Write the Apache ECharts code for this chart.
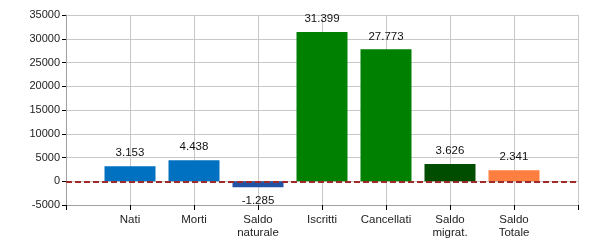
<!DOCTYPE html>
<html><head><meta charset="utf-8">
<script src="https://cdn.jsdelivr.net/npm/echarts@6/dist/echarts.min.js"></script>
<style>html,body{margin:0;padding:0;background:#fff}#c{width:600px;height:250px}</style>
</head><body><div id="c"></div>
<script>
var categories = ['', 'Nati', 'Morti', 'Saldo\nnaturale', 'Iscritti', 'Cancellati', 'Saldo\nmigrat.', 'Saldo\nTotale', ''];
var values = [null, 3153, 4438, -1285, 31399, 27773, 3626, 2341, null];
var barColors = [null, '#0070C0', '#0070C0', '#2152A3', '#008000', '#008000', '#004D00', '#FF7F40', null];
var yTicks = { min: -5000, max: 35000, interval: 5000 };

function fmt(v) {
  var s = Math.abs(v).toString().replace(/\B(?=(\d{3})+(?!\d))/g, '.');
  return (v < 0 ? '-' : '') + s;
}

var data = values.map(function (v, i) {
  if (v === null) return '-';
  return {
    value: v,
    itemStyle: { color: barColors[i] },
    label: { position: v < 0 ? 'bottom' : 'top' }
  };
});

var chart = echarts.init(document.getElementById('c'), null, { renderer: 'canvas' });
chart.setOption({
  animation: false,
  textStyle: { fontFamily: 'Liberation Sans, Arial, sans-serif' },
  grid: { left: 66, right: 22, top: 15, bottom: 45, containLabel: false },
  xAxis: {
    type: 'category',
    data: categories,
    boundaryGap: false,
    axisLine: { show: true, onZero: false, lineStyle: { color: '#A0A0A0', width: 1 } },
    axisTick: { show: true, length: 5, lineStyle: { color: '#000' } },
    axisLabel: { color: '#222', fontSize: 11.5, margin: 8, lineHeight: 13, interval: 0 },
    splitLine: { show: true, lineStyle: { color: '#C8C8C8', width: 1 } }
  },
  yAxis: {
    type: 'value',
    min: yTicks.min, max: yTicks.max, interval: yTicks.interval,
    axisLine: { show: true, lineStyle: { color: '#A0A0A0', width: 1 } },
    axisTick: { show: true, length: 4, lineStyle: { color: '#000' } },
    axisLabel: { color: '#222', fontSize: 11, margin: 6, formatter: function (v) { return String(v); } },
    splitLine: { show: true, lineStyle: { color: '#C8C8C8', width: 1 } }
  },
  series: [{
    type: 'bar',
    data: data,
    barWidth: 51,
    label: {
      show: true,
      color: '#111',
      fontSize: 11.5,
      distance: 7,
      formatter: function (p) { return fmt(p.value); }
    },
    markLine: {
      silent: true,
      symbol: ['none', 'none'],
      label: { show: false },
      lineStyle: { color: '#9E2A2B', type: [6, 3], width: 2 },
      data: [{ yAxis: 0 }]
    }
  }]
});
</script></body></html>
